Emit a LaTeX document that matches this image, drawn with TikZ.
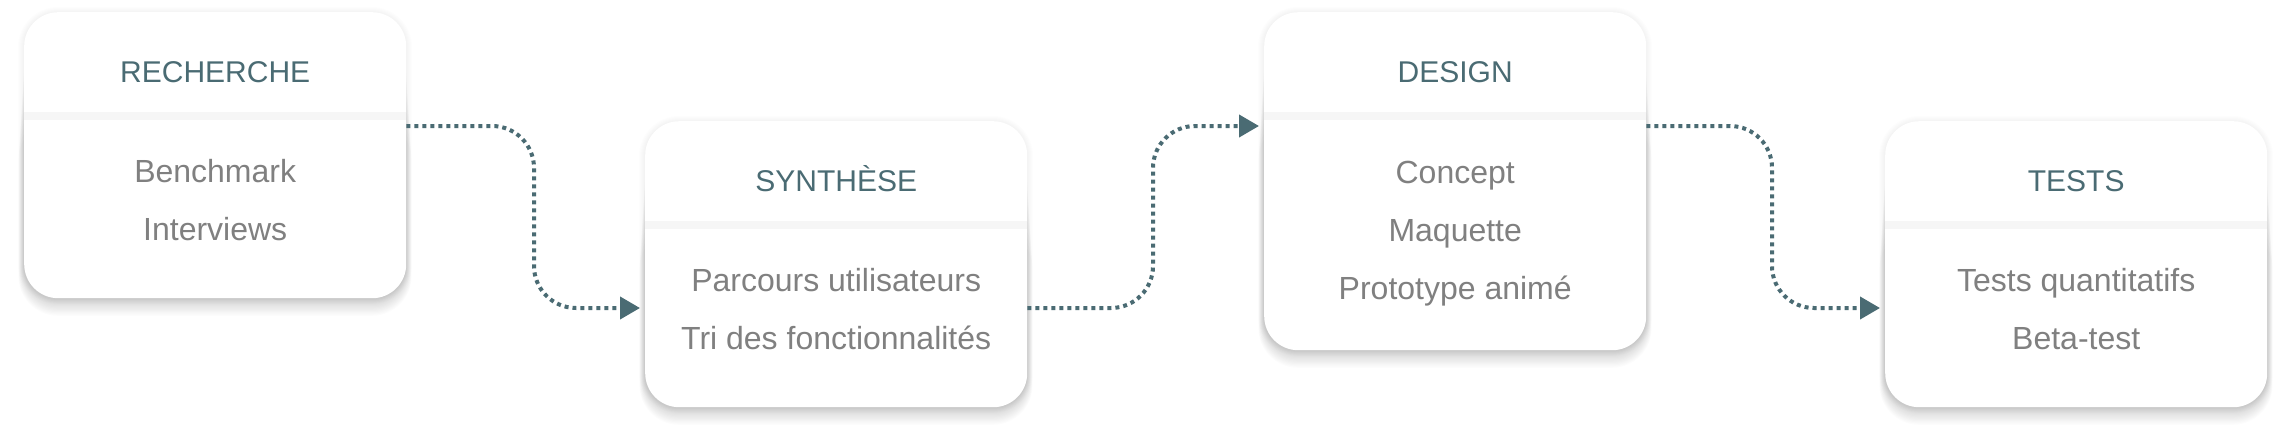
\documentclass[tikz,border=0pt]{standalone}
\usepackage{fontspec}
\setmainfont{Liberation Sans}
\usetikzlibrary{arrows.meta}
\definecolor{accent}{RGB}{74,107,115}
\definecolor{itemgray}{RGB}{128,128,128}
\definecolor{sepgray}{RGB}{246,246,246}
\newcommand\stagebox[5]{% name, x, top, w, h
  \foreach \j in {1,...,6}{%
    \pgfmathsetmacro\rq{34+\j}%
    \fill[black,opacity=0.006,rounded corners=\rq pt]
      (#2-\j, #3-\j+1) rectangle (#2+#4+\j, #3+#5+\j);
  }
  \foreach \i in {1,...,14}{%
    \pgfmathsetmacro\rr{34+\i*0.4}%
    \fill[black,opacity=0.011,rounded corners=\rr pt]
      (#2-\i*0.4, #3+24+\i*6) rectangle (#2+#4+\i*0.4, #3+#5+1+\i*1.2);
  }
  \node[stagebg, minimum width=#4pt, minimum height=#5pt, anchor=north west] (#1) at (#2,#3) {};
  \fill[sepgray] ([yshift=-100pt]#1.north west) rectangle ([yshift=-108pt]#1.north east);
}
\begin{document}
\begin{tikzpicture}[x=1pt,y=-1pt,
  stagebg/.style={fill=white, rounded corners=34pt, inner sep=0pt, draw=none},
  stagetitle/.style={anchor=base, text=accent, font=\fontsize{30}{36}\selectfont, inner sep=0pt},
  stageitem/.style={anchor=base, text=itemgray, font=\fontsize{32}{38}\selectfont, inner sep=0pt},
  conn/.style={draw=accent, line width=4pt, dash pattern=on 4pt off 4pt, rounded corners=42pt,
    shorten >=5pt, -{Triangle[length=20pt,width=22pt]}, fill=none}
]
\useasboundingbox[fill=white] (0,0) rectangle (2290,442);

\stagebox{b1}{24}{12}{382}{286}
\stagebox{b2}{645}{121}{382}{286}
\stagebox{b3}{1264}{12}{382}{338}
\stagebox{b4}{1885}{121}{382}{286}

% titles
\node[stagetitle] (t1) at ([yshift=-70pt]b1.north) {RECHERCHE};
\node[stagetitle] (t2) at ([yshift=-70pt]b2.north) {SYNTHÈSE};
\node[stagetitle] (t3) at ([yshift=-70pt]b3.north) {DESIGN};
\node[stagetitle] (t4) at ([yshift=-70pt]b4.north) {TESTS};

% items
\node[stageitem] (i11) at ([yshift=-170pt]b1.north) {Benchmark};
\node[stageitem] (i12) at ([yshift=-228pt]b1.north) {Interviews};
\node[stageitem] (i21) at ([yshift=-170pt]b2.north) {Parcours utilisateurs};
\node[stageitem] (i22) at ([yshift=-228pt]b2.north) {Tri des fonctionnalités};
\node[stageitem] (i31) at ([yshift=-171pt]b3.north) {Concept};
\node[stageitem] (i32) at ([yshift=-229pt]b3.north) {Maquette};
\node[stageitem] (i33) at ([yshift=-287pt]b3.north) {Prototype animé};
\node[stageitem] (i41) at ([yshift=-170pt]b4.north) {Tests quantitatifs};
\node[stageitem] (i42) at ([yshift=-228pt]b4.north) {Beta-test};

% bend points
\coordinate (k1a) at (534,126);
\coordinate (k1b) at (534,308);
\coordinate (k2a) at (1153,308);
\coordinate (k2b) at (1153,126);
\coordinate (k3a) at (1772,126);
\coordinate (k3b) at (1772,308);

\draw[conn] ([yshift=-114pt]b1.north east) -- (k1a) -- (k1b) -- ([yshift=-187pt]b2.north west);
\draw[conn] ([yshift=-187pt]b2.north east) -- (k2a) -- (k2b) -- ([yshift=-114pt]b3.north west);
\draw[conn] ([yshift=-114pt]b3.north east) -- (k3a) -- (k3b) -- ([yshift=-187pt]b4.north west);
\end{tikzpicture}
\end{document}
